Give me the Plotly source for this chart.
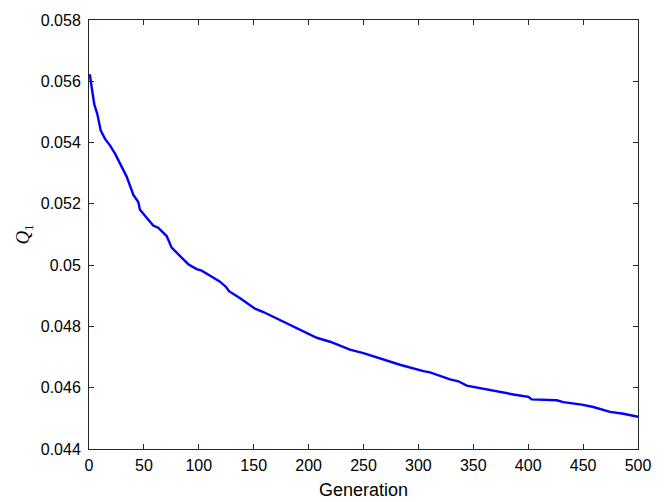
import plotly.graph_objects as go

# generation vs Q1
generation = [0, 0.9, 2.5, 4.8, 7.6, 10.7, 14.6, 19.1, 23.7, 28.9, 34.3, 40.4, 44.9,
              46.4, 52.5, 58.5, 63, 70.7, 75.3, 82.9, 90.4, 98, 102.6, 110, 119, 125,
              127.5, 137.3, 151.2, 158.8, 174, 189.2, 207.4, 219.5, 237.7, 249.9, 268.1,
              283.2, 304.5, 310.6, 328.8, 336.4, 344, 356.2, 371.3, 386.5, 400.2, 403.2,
              426, 432, 448.7, 459.3, 474.5, 486.7, 500]
q1 = [0.05622, 0.05619, 0.05579, 0.05525, 0.05493, 0.05439, 0.05412, 0.05391, 0.05364,
      0.05326, 0.05289, 0.05229, 0.05206, 0.05181, 0.05154, 0.05129, 0.05122, 0.05095,
      0.05057, 0.05030, 0.05003, 0.04987, 0.04982, 0.04966, 0.04947, 0.04928, 0.04915,
      0.04893, 0.04858, 0.04847, 0.04820, 0.04793, 0.04763, 0.04750, 0.04724, 0.04713,
      0.04691, 0.04675, 0.04654, 0.04650, 0.04627, 0.04621, 0.04607, 0.04598, 0.04589,
      0.04578, 0.04570, 0.04562, 0.04559, 0.04553, 0.04545, 0.04537, 0.04521, 0.04515,
      0.04505]

x_ticks = [0, 50, 100, 150, 200, 250, 300, 350, 400, 450, 500]
y_ticks = [0.044, 0.046, 0.048, 0.05, 0.052, 0.054, 0.056, 0.058]
y_ticktext = ["0.044", "0.046", "0.048", "0.05", "0.052", "0.054", "0.056", "0.058"]

fig = go.Figure()
fig.add_trace(go.Scatter(x=generation, y=q1, mode="lines",
                         line=dict(color="#0000ff", width=2.4)))

axis_style = dict(showline=True, linecolor="#262626", linewidth=1, mirror="ticks",
                  ticks="inside", ticklen=5, tickcolor="#262626", showgrid=False,
                  zeroline=False, tickfont=dict(family="Liberation Sans", size=16, color="#000"))

fig.update_xaxes(range=[0, 500], tickvals=x_ticks, ticklabelstandoff=2, **axis_style)
fig.update_yaxes(range=[0.044, 0.058], tickvals=y_ticks, ticktext=y_ticktext,
                 ticklabelstandoff=4, **axis_style)

fig.add_annotation(text="Generation", xref="paper", yref="paper", x=0.5, y=-0.096,
                   showarrow=False, yanchor="middle",
                   font=dict(family="Liberation Sans", size=18, color="#000"))
fig.add_annotation(text="<i>Q</i><sub>1</sub>", xref="paper", yref="paper",
                   x=-0.12, y=0.5, showarrow=False, textangle=-90,
                   xanchor="center", yanchor="middle",
                   font=dict(family="Liberation Serif", size=19, color="#000"))

fig.update_layout(width=668, height=502, plot_bgcolor="white", paper_bgcolor="white",
                  showlegend=False, margin=dict(l=89, r=30, t=15, b=53))

# drop the page's default body margin so the figure sits at the window's corner
fig.write_html("out.html", config={"displayModeBar": False},
               post_script="document.body.style.margin='0';")
